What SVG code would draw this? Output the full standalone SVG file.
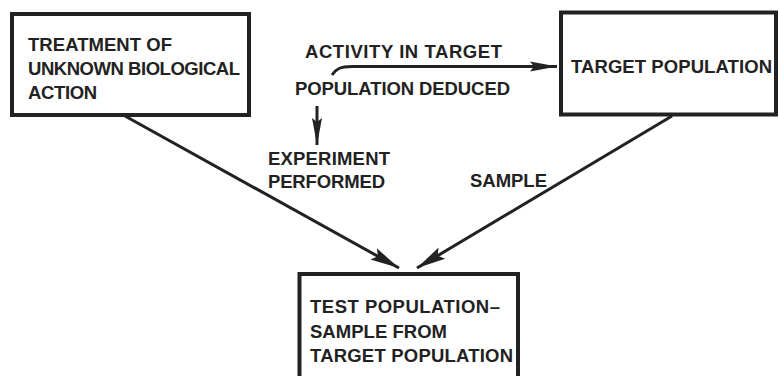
<svg xmlns="http://www.w3.org/2000/svg" width="779" height="376" viewBox="0 0 779 376">
  <defs>
    <style>
      .box { fill: #ffffff; stroke: #222222; stroke-width: 4; }
      .t { font-family: "Liberation Sans", Arial, sans-serif; font-weight: bold; font-size: 18.5px; fill: #222222; }
      .edge { fill: none; stroke: #222222; stroke-width: 3; stroke-linecap: butt; }
    </style>
    <marker id="headBig" markerUnits="userSpaceOnUse" markerWidth="30" markerHeight="16" refX="29" refY="7" orient="auto" viewBox="0 0 30 14">
      <path d="M0,0.5 L29,7 L0,13.5 L5,7 Z" fill="#222222"/>
    </marker>
    <marker id="headSmall" markerUnits="userSpaceOnUse" markerWidth="28" markerHeight="12" refX="27" refY="5" orient="auto" viewBox="0 0 28 10">
      <path d="M0,0 L27,5 L0,10 L4,5 Z" fill="#222222"/>
    </marker>
  </defs>
  <rect width="779" height="376" fill="#ffffff"/>

  <g id="connectors">
    <path class="edge" d="M125,116 L399,268" marker-end="url(#headBig)"/>
    <path class="edge" d="M672,116 L417,268" marker-end="url(#headBig)"/>
    <path class="edge" d="M332,75 C336,69 340,66.5 352,66.5 L557,66.5" marker-end="url(#headSmall)"/>
    <path class="edge" d="M317,106 L317,145" marker-end="url(#headSmall)"/>
  </g>

  <g id="node-treatment">
    <rect class="box" x="12" y="14" width="237" height="101"/>
    <text class="t" x="28" y="51" textLength="144">TREATMENT OF</text>
    <text class="t" x="28" y="75" textLength="212">UNKNOWN BIOLOGICAL</text>
    <text class="t" x="28" y="99" textLength="69">ACTION</text>
  </g>

  <g id="node-target">
    <rect class="box" x="561" y="12.5" width="215" height="102"/>
    <text class="t" x="571" y="73" textLength="201">TARGET POPULATION</text>
  </g>

  <g id="node-test">
    <rect class="box" x="299.5" y="274" width="218.5" height="120"/>
    <text class="t" x="310" y="313" textLength="190">TEST POPULATION–</text>
    <text class="t" x="310" y="338" textLength="137">SAMPLE FROM</text>
    <text class="t" x="310" y="362" textLength="203">TARGET POPULATION</text>
  </g>

  <g id="labels">
    <text class="t" x="305" y="58" textLength="197">ACTIVITY IN TARGET</text>
    <text class="t" x="295" y="95" textLength="215">POPULATION DEDUCED</text>
    <text class="t" x="268" y="165" textLength="122">EXPERIMENT</text>
    <text class="t" x="268" y="188" textLength="117">PERFORMED</text>
    <text class="t" x="470" y="187" textLength="77">SAMPLE</text>
  </g>
</svg>
